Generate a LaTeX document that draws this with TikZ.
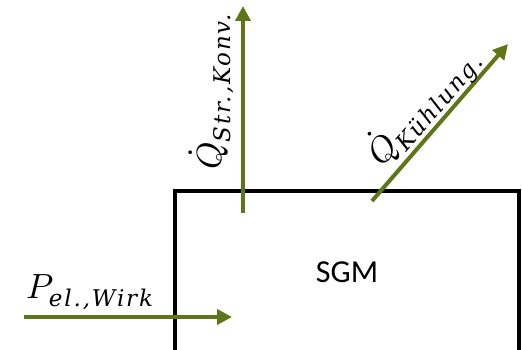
\documentclass[tikz,border=0pt]{standalone}
\usepackage{amsmath}
\usepackage{fontspec}
\usepackage{unicode-math}
\setmathfont{Latin Modern Math}
\newfontfamily\sgmfont{Carlito}
\newfontfamily\subfont[LetterSpace=8]{DejaVu Serif}
\newcommand{\sbt}[1]{\text{\subfont\itshape\fontsize{23}{28}\selectfont #1}}
\usetikzlibrary{arrows.meta}
\definecolor{flow}{RGB}{94,118,24}
\tikzset{
  flowarrow/.style={draw=flow, line width=4pt, -{Triangle[length=15pt,width=15pt]}},
  box/.style={draw=black, line width=4.5pt},
  lbl/.style={inner sep=0pt, font=\fontsize{35}{40}\selectfont}
}
\begin{document}
\begin{tikzpicture}[x=1pt,y=-1pt]
\useasboundingbox (0,0) rectangle (522,350);
\clip (0,0) rectangle (522,350);
\draw[box] (175,191) rectangle (519,360);
\node[inner sep=0pt, font=\sgmfont\fontsize{32}{38}\selectfont] (sgm) at (347,272) {SGM};
\coordinate (pin0) at (24,317);
\coordinate (pin1) at (232,317);
\coordinate (q0) at (243,213);
\coordinate (q1) at (243,6);
\coordinate (k0) at (372,201);
\coordinate (k1) at (508,44);
\draw[flowarrow] (pin0) -- (pin1);
\draw[flowarrow] (q0) -- (q1);
\draw[flowarrow] (k0) -- (k1);
\node[lbl] (plabel) at (90,292) {$P_{\sbt{el.,Wirk}}$};
\node[lbl, rotate=90] (qlabel) at (211,92) {$\dot{Q}_{\sbt{Str.,Konv.}}$};
\node[lbl, rotate=49] (klabel) at (423,106) {$\dot{Q}_{\sbt{Kühlung.}}$};
\end{tikzpicture}
\end{document}
